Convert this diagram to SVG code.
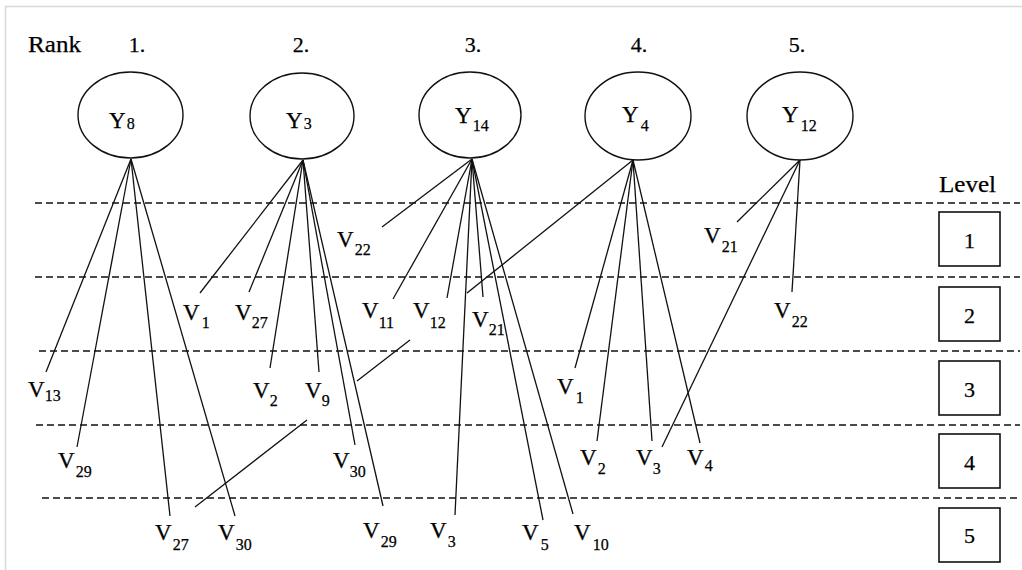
<svg xmlns="http://www.w3.org/2000/svg" width="1022" height="570" viewBox="0 0 1022 570" font-family="'Liberation Serif', 'Times New Roman', 'DejaVu Serif', serif">
  <style>
    text { font-family: "Liberation Serif", "Times New Roman", "DejaVu Serif", serif; fill: #000; stroke: #000; stroke-width: 0.25; }
    .lbl { font-size: 23px; }
    .head { font-size: 24px; }
    .sub { font-size: 16px; }
    .num { font-size: 22px; text-anchor: middle; }
    .node { fill: #fff; stroke: #111; stroke-width: 1.4; }
    .box { fill: #fff; stroke: #111; stroke-width: 1.6; }
    .edge { stroke: #111; stroke-width: 1.3; fill: none; }
    .sep { stroke: #111; stroke-width: 1.4; stroke-dasharray: 7 4; fill: none; }
    .frame { stroke: #d8d8d8; stroke-width: 1.5; fill: none; }
  </style>

  <rect x="0" y="0" width="1022" height="570" fill="#fff"/>
  <path class="frame" d="M5.5 570 V6.5 H1022"/>

  <!-- level separators -->
  <g id="separators">
    <line class="sep" x1="35" y1="203" x2="1020" y2="203"/>
    <line class="sep" x1="35" y1="277" x2="1020" y2="277"/>
    <line class="sep" x1="39" y1="351" x2="1020" y2="351"/>
    <line class="sep" x1="36" y1="425" x2="1020" y2="425"/>
    <line class="sep" x1="42" y1="498" x2="1020" y2="498"/>
  </g>

  <!-- header -->
  <g id="rank-header">
    <text class="head" x="28" y="52" textLength="53" lengthAdjust="spacingAndGlyphs">Rank</text>
    <text class="num" x="137" y="52">1.</text>
    <text class="num" x="301" y="52">2.</text>
    <text class="num" x="473" y="52">3.</text>
    <text class="num" x="639" y="52">4.</text>
    <text class="num" x="797" y="52">5.</text>
  </g>

  <!-- connectors -->
  <g id="connectors">
    <!-- Y8 -->
    <line class="edge" x1="131" y1="159" x2="46" y2="372"/>
    <line class="edge" x1="131" y1="159" x2="77" y2="447"/>
    <line class="edge" x1="131" y1="159" x2="170" y2="516"/>
    <line class="edge" x1="131" y1="159" x2="235" y2="516"/>
    <!-- Y3 -->
    <line class="edge" x1="303" y1="160" x2="200" y2="293"/>
    <line class="edge" x1="303" y1="160" x2="249" y2="292"/>
    <line class="edge" x1="303" y1="160" x2="270" y2="368"/>
    <line class="edge" x1="303" y1="160" x2="319" y2="372"/>
    <line class="edge" x1="303" y1="160" x2="355" y2="445"/>
    <line class="edge" x1="303" y1="160" x2="383" y2="506"/>
    <!-- Y14 -->
    <line class="edge" x1="472" y1="159" x2="382" y2="227"/>
    <line class="edge" x1="472" y1="159" x2="393" y2="299"/>
    <line class="edge" x1="472" y1="159" x2="447" y2="298"/>
    <line class="edge" x1="472" y1="159" x2="483" y2="297"/>
    <line class="edge" x1="472" y1="159" x2="455" y2="515"/>
    <line class="edge" x1="472" y1="159" x2="543" y2="520"/>
    <line class="edge" x1="472" y1="159" x2="573" y2="514"/>
    <!-- Y4 -->
    <line class="edge" x1="633" y1="160" x2="467" y2="293"/>
    <line class="edge" x1="633" y1="160" x2="575" y2="368"/>
    <line class="edge" x1="633" y1="160" x2="597" y2="441"/>
    <line class="edge" x1="633" y1="160" x2="652" y2="441"/>
    <line class="edge" x1="633" y1="160" x2="700" y2="443"/>
    <!-- Y12 -->
    <line class="edge" x1="800" y1="160" x2="737" y2="222"/>
    <line class="edge" x1="800" y1="160" x2="792" y2="292"/>
    <line class="edge" x1="800" y1="160" x2="662" y2="447"/>
    <!-- V12 to V27 link -->
    <line class="edge" x1="410" y1="340" x2="357" y2="381"/>
    <line class="edge" x1="307" y1="420" x2="195" y2="507"/>
  </g>

  <!-- factor nodes -->
  <g id="node-y8">
    <ellipse class="node" cx="130.5" cy="115" rx="52.5" ry="43"/>
    <text class="lbl" x="109" y="128">Y<tspan class="sub" dx="1" dy="1">8</tspan></text>
  </g>
  <g id="node-y3">
    <ellipse class="node" cx="302" cy="116" rx="52" ry="43"/>
    <text class="lbl" x="286" y="128">Y<tspan class="sub" dx="1" dy="1">3</tspan></text>
  </g>
  <g id="node-y14">
    <ellipse class="node" cx="470" cy="115" rx="51" ry="43"/>
    <text class="lbl" x="455" y="123">Y<tspan class="sub" dx="1" dy="8">14</tspan></text>
  </g>
  <g id="node-y4">
    <ellipse class="node" cx="638" cy="116" rx="53" ry="44"/>
    <text class="lbl" x="622" y="122">Y<tspan class="sub" dx="2" dy="9">4</tspan></text>
  </g>
  <g id="node-y12">
    <ellipse class="node" cx="800" cy="116" rx="53" ry="44"/>
    <text class="lbl" x="782" y="122">Y<tspan class="sub" dx="2" dy="9">12</tspan></text>
  </g>

  <!-- variable nodes -->
  <g id="node-v13"><text class="lbl" x="28" y="397">V<tspan class="sub" dx="0" dy="4">13</tspan></text></g>
  <g id="node-v29a"><text class="lbl" x="58" y="468">V<tspan class="sub" dx="1" dy="9">29</tspan></text></g>
  <g id="node-v27a"><text class="lbl" x="155" y="540">V<tspan class="sub" dx="1" dy="10">27</tspan></text></g>
  <g id="node-v30a"><text class="lbl" x="218" y="540">V<tspan class="sub" dx="1" dy="10">30</tspan></text></g>
  <g id="node-v1a"><text class="lbl" x="183" y="320">V<tspan class="sub" dx="2" dy="8">1</tspan></text></g>
  <g id="node-v27b"><text class="lbl" x="235" y="320">V<tspan class="sub" dx="0" dy="8">27</tspan></text></g>
  <g id="node-v2a"><text class="lbl" x="253" y="398">V<tspan class="sub" dx="0" dy="8">2</tspan></text></g>
  <g id="node-v9"><text class="lbl" x="305" y="398">V<tspan class="sub" dx="0" dy="8">9</tspan></text></g>
  <g id="node-v30b"><text class="lbl" x="333" y="468">V<tspan class="sub" dx="0" dy="9">30</tspan></text></g>
  <g id="node-v29b"><text class="lbl" x="363" y="538">V<tspan class="sub" dx="1" dy="9">29</tspan></text></g>
  <g id="node-v3a"><text class="lbl" x="430" y="538">V<tspan class="sub" dx="1" dy="9">3</tspan></text></g>
  <g id="node-v22a"><text class="lbl" x="337" y="247">V<tspan class="sub" dx="1" dy="8">22</tspan></text></g>
  <g id="node-v11"><text class="lbl" x="362" y="318">V<tspan class="sub" dx="0" dy="10">11</tspan></text></g>
  <g id="node-v12"><text class="lbl" x="413" y="318">V<tspan class="sub" dx="0" dy="10">12</tspan></text></g>
  <g id="node-v21a"><text class="lbl" x="472" y="327">V<tspan class="sub" dx="0" dy="8">21</tspan></text></g>
  <g id="node-v1b"><text class="lbl" x="557" y="394">V<tspan class="sub" dx="2" dy="9">1</tspan></text></g>
  <g id="node-v2b"><text class="lbl" x="580" y="465">V<tspan class="sub" dx="1" dy="9">2</tspan></text></g>
  <g id="node-v3b"><text class="lbl" x="636" y="465">V<tspan class="sub" dx="0" dy="9">3</tspan></text></g>
  <g id="node-v4"><text class="lbl" x="687" y="465">V<tspan class="sub" dx="1" dy="6">4</tspan></text></g>
  <g id="node-v5"><text class="lbl" x="522" y="540">V<tspan class="sub" dx="2" dy="10">5</tspan></text></g>
  <g id="node-v10"><text class="lbl" x="574" y="540">V<tspan class="sub" dx="2" dy="10">10</tspan></text></g>
  <g id="node-v21b"><text class="lbl" x="704" y="243">V<tspan class="sub" dx="1" dy="9">21</tspan></text></g>
  <g id="node-v22b"><text class="lbl" x="774" y="318">V<tspan class="sub" dx="1" dy="9">22</tspan></text></g>

  <!-- level legend -->
  <g id="level-legend">
    <text class="head" x="939" y="192" textLength="57" lengthAdjust="spacingAndGlyphs">Level</text>
  </g>
  <g id="level-1">
    <rect class="box" x="939" y="212" width="61" height="54"/>
    <text class="num" x="969.5" y="248">1</text>
  </g>
  <g id="level-2">
    <rect class="box" x="939" y="287" width="61" height="54"/>
    <text class="num" x="969.5" y="323">2</text>
  </g>
  <g id="level-3">
    <rect class="box" x="939" y="361" width="61" height="54"/>
    <text class="num" x="969.5" y="397">3</text>
  </g>
  <g id="level-4">
    <rect class="box" x="939" y="434" width="61" height="54"/>
    <text class="num" x="969.5" y="470">4</text>
  </g>
  <g id="level-5">
    <rect class="box" x="939" y="508" width="61" height="54"/>
    <text class="num" x="969.5" y="543">5</text>
  </g>
</svg>
